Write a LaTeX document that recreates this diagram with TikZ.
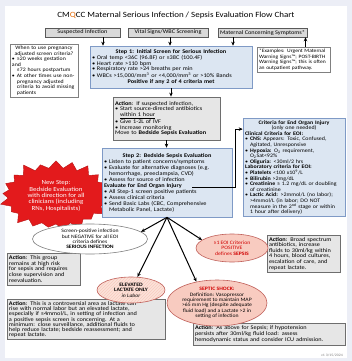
\documentclass[tikz,border=0pt]{standalone}
\usepackage{fontspec}
\setmainfont{Carlito}[FakeStretch=1.12]
\usetikzlibrary{shapes.geometric,shapes.symbols,arrows.meta,patterns,calc}
\definecolor{bg}{HTML}{ECEEF6}
\definecolor{bluefill}{HTML}{DCE6F2}
\definecolor{blueline}{HTML}{7F9AC6}
\definecolor{actfill}{HTML}{E6E6E6}
\definecolor{actline}{HTML}{6E6E6E}
\definecolor{topfill}{HTML}{D9D9D9}
\definecolor{pinkfill}{HTML}{F8CBC0}
\definecolor{lactfill}{HTML}{FCE2DA}
\definecolor{pinkline}{HTML}{C0605A}
\definecolor{darkred}{HTML}{D00000}
\definecolor{burst}{HTML}{E31A1C}
\definecolor{qorange}{HTML}{E46C0A}
\newcommand{\bitem}{\makebox[5pt][l]{\textbullet}}
\newcommand{\cont}{\hspace*{5pt}}
\newcommand{\ctr}[1]{\hspace*{\fill}#1\hspace*{\fill}\null}
\tikzset{
  txt/.style={font=\fontsize{5.6}{5.6}\selectfont, execute at begin node=\setlength{\parindent}{0pt}},
  box/.style={txt, rectangle, align=left, inner sep=2pt, anchor=center},
  topbox/.style={txt, draw=gray!70!black, fill=topfill, line width=0.5pt, inner sep=0pt, align=center, minimum height=9pt},
  bluebox/.style={box, draw=blueline, fill=bluefill, line width=0.6pt},
  actbox/.style={box, draw=actline, fill=actfill, line width=0.8pt},
  notebox/.style={box, draw=gray, fill=white, line width=0.6pt},
  ell/.style={ellipse, inner sep=0pt},
  elltxt/.style={font=\fontsize{5.1}{5.4}\selectfont, align=center, inner sep=0pt},
  arr/.style={-{Stealth[length=4pt,width=3.5pt]}, line width=1pt, black},
}
\begin{document}
\begin{tikzpicture}[x=1pt,y=-1pt]
\fill[bg] (0,0) rectangle (352,361);
\useasboundingbox (0,0) rectangle (352,361);
\fill[white] (5,6) rectangle (347,358);

\node[font=\fontsize{8}{8}\selectfont] (title) at (176,15) {CM{\color{qorange}Q}CC Maternal Serious Infection / Sepsis Evaluation Flow Chart};

\node[topbox, minimum width=75pt] (si) at (82.5,32.5) {Suspected Infection};
\node[topbox, minimum width=80pt] (vs) at (168,32.5) {Vital Signs/WBC Screening};
\node[topbox, minimum width=89pt] (mc) at (262.5,32.5) {Maternal Concerning Symptoms*};

\node[bluebox, text width=158pt, minimum height=42pt] (s1) at (171,67) {%
\ctr{\textbf{Step 1: Initial Screen for Serious Infection}}\\
\bitem Oral temp <36C (96.8F) or ≥38C (100.4F)\\
\bitem Heart rate >110 bpm\\
\bitem Respiratory rate >24 breaths per min\\
\bitem WBCs >15,000/mm\textsuperscript{3} or <4,000/mm\textsuperscript{3} or >10\% Bands\\
\ctr{\textbf{Positive if any 2 of 4 criteria met}}};

\node[notebox, text width=64pt, minimum height=45pt, font=\fontsize{5.2}{5.6}\selectfont] (preg) at (44,70.5) {%
\ctr{When to use pregnancy}\\
\ctr{adjusted screen criteria?}\\
\bitem ≥20 weeks gestation and\\
\cont ≤72 hours postpartum\\
\bitem At other times use non-\\
\cont pregnancy adjusted\\
\cont criteria to avoid missing\\
\cont patients};

\node[notebox, text width=69pt, minimum height=25pt, font=\fontsize{5}{5.6}\selectfont] (ex) at (293.5,59.5) {%
*Examples: Urgent Maternal\\
Warning Signs\texttrademark; POST-BIRTH\\
Warning Signs\texttrademark; this is often\\
an outpatient pathway.};

\node[actbox, text width=103pt, minimum height=43pt] (a1) at (166.5,118.5) {%
\textbf{Action}: If suspected infection,\\
\bitem Start source-directed antibiotics\\
\cont \underline{within 1 hour}\\
\bitem Give 1-2L of IVF\\
\bitem Increase monitoring\\
Move to \textbf{Bedside Sepsis Evaluation}};

\node[starburst, fill=burst, draw=burst!80!black, minimum width=116pt, minimum height=76pt, starburst points=21, starburst point height=10pt] (nsb) at (56,196) {};
\node[elltxt, text=white, font=\fontsize{6.2}{6.4}\selectfont] (nst) at (nsb.center) {New Step:\\Bedside Evaluation\\with direction for all\\clinicians (including\\RNs, Hospitalists)};

\node[bluebox, text width=126pt, minimum height=69pt, font=\fontsize{5.6}{6}\selectfont] (s2) at (167,182.5) {%
\ctr{\textbf{Step 2: Bedside Sepsis Evaluation}}\\
\bitem Listen to patient concerns/symptoms\\
\bitem Evaluate for alternative diagnoses (e.g.\\
\cont hemorrhage, preeclampsia, CVD)\\
\bitem Assess for source of infection\\
\textbf{Evaluate for End Organ Injury}\\
\bitem All Step-1 screen positive patients\\
\bitem Assess clinical criteria\\
\bitem Send Basic Labs (CBC, Comprehensive\\
\cont Metabolic Panel, Lactate)};

\node[bluebox, text width=98pt, minimum height=91pt, font=\fontsize{5.3}{5.6}\selectfont] (cr) at (294,167.5) {%
\ctr{\textbf{Criteria for End Organ Injury}}\\
\ctr{(only one needed)}\\
\textbf{Clinical Criteria for EOI:}\\
\bitem \textbf{CNS:} Appears: Toxic, Confused,\\
\cont Agitated, Unresponsive\\
\bitem \textbf{Hypoxia:} O\textsubscript{2} requirement,\\
\cont O\textsubscript{2}Sat<92\%\\
\bitem \textbf{Oliguria:} <30ml/2 hrs\\
\textbf{Laboratory criteria for EOI:}\\
\bitem \textbf{Platelets} <100 x10\textsuperscript{9}/L\\
\bitem \textbf{Bilirubin} >2mg/dL\\
\bitem \textbf{Creatinine} ≥ 1.2 mg/dL or doubling\\
\cont of creatinine\\
\bitem \textbf{Lactic Acid:} >2mmol/L (no labor);\\
\cont >4mmol/L (in labor; DO NOT\\
\cont measure in the 2\textsuperscript{nd} stage or within\\
\cont 1 hour after delivery)};

\node[actbox, text width=69pt, minimum height=32pt] (aser) at (43.5,269) {%
\textbf{Action}: This group\\
remains at high risk\\
for sepsis and requires\\
close supervision and\\
reevaluation.};

\node[ell, draw=gray, fill=white, line width=0.6pt, minimum width=115pt, minimum height=30pt] (e1) at (90,239) {};
\node[elltxt] (e1t) at (e1.center) {Screen-positive infection\\but NEGATIVE for all EOI\\criteria defines\\\textbf{SERIOUS INFECTION}};

\node[actbox, text width=69pt, minimum height=37pt] (asep) at (303.5,253.5) {%
\textbf{Action}: Broad spectrum\\
antibiotics, increase\\
fluids to 30ml/kg within\\
4 hours, blood cultures,\\
escalation of care, and\\
repeat lactate.};

\node[ell, draw=pinkline, fill=pinkfill, line width=0.6pt, minimum width=72pt, minimum height=28pt] (e2) at (232,248) {};
\node[elltxt, text=darkred] (e2t) at (e2.center) {≥1 EOI Criterion\\POSITIVE\\defines \textbf{SEPSIS}};

\node[actbox, text width=154pt, minimum height=35pt, font=\fontsize{5.6}{5.1}\selectfont] (alac) at (86,319.5) {%
\textbf{Action}: This is a controversial area as lactate can\\
rise with normal labor but an elevated lactate,\\
especially if ≥4mmol/L, in setting of infection and\\
a positive sepsis screen is concerning. At a\\
minimum: close surveillance, additional fluids to\\
help reduce lactate; bedside reassessment; and\\
repeat lactate.};

\node[ell, draw=pinkline, line width=0.6pt, preaction={fill=lactfill}, pattern=north east lines, pattern color=pinkfill, minimum width=68pt, minimum height=26pt] (e3) at (131,290) {};
\node[elltxt] (e3t) at (e3.center) {\textbf{ELEVATED}\\\textbf{LACTATE ONLY}\\\textit{in Labor}};

\node[actbox, text width=148pt, minimum height=22pt] (ash) at (269,334) {%
\textbf{Action}: As above for Sepsis; if hypotension\\
persists after 30ml/kg fluid load: assess\\
hemodynamic status and consider ICU admission.};

\node[ell, draw=pinkline, fill=pinkfill, line width=0.6pt, minimum width=100pt, minimum height=46pt] (e4) at (217,303) {};
\node[elltxt] (e4t) at (e4.center) {\textcolor{darkred}{\textbf{SEPTIC SHOCK:}}\\Definition: Vasopressor\\requirement to maintain MAP\\>65 mm Hg (despite adequate\\fluid load) and a Lactate >2 in\\setting of infection};

\node[font=\fontsize{3.5}{3.5}\selectfont, text=gray] (ver) at (332,355) {v1 3/15/2024};

% connectors
\draw[arr] ([xshift=20.5pt]si.south) -- ([xshift=20.5pt]si.south |- s1.north);
\draw[arr] ([xshift=2pt]vs.south) -- ([xshift=2pt]vs.south |- s1.north);
\draw[arr] ([xshift=-29.5pt]mc.south) -- ([xshift=-29.5pt]mc.south |- s1.north);
\draw[arr] ([xshift=12pt]ex.north) -- ([xshift=12pt]ex.north |- mc.south);
\draw[arr] (s1.south) -- (s1.south |- a1.north);
\draw[arr] (a1.south) -- (a1.south |- s2.north);
\coordinate (eoi) at (192,187);
\draw[arr] (eoi) -- ++(43,0) |- ([yshift=-11pt]cr.north west);
\draw[arr] (s2.south) -- (e1.8);
\draw[arr] (s2.south) -- (e2.165);
\draw[arr] (s2.south) -- (e3);
\draw[arr] (s2.south) -- (e4.134);
\end{tikzpicture}
\end{document}
